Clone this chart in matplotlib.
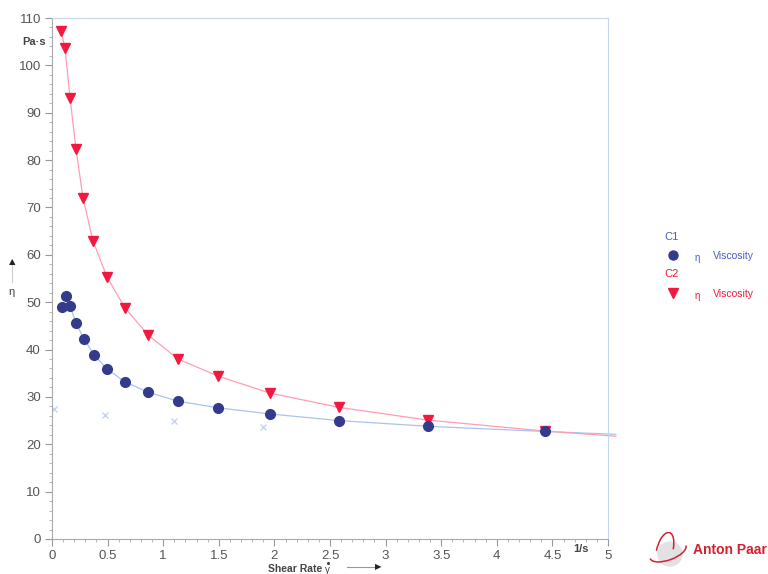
import matplotlib
matplotlib.use('Agg')
import matplotlib.pyplot as plt
from matplotlib.patches import Arc
from matplotlib.ticker import MultipleLocator

plt.rcParams['font.family'] = ['Liberation Sans', 'DejaVu Sans']

# shear rate (1/s) and viscosity (Pa·s)
rate_c1 = [0.09, 0.126, 0.162, 0.216, 0.288, 0.378, 0.495, 0.656, 0.863, 1.133, 1.493, 1.96, 2.58, 3.38, 4.43]
visc_c1 = [49.0, 51.3, 49.2, 45.6, 42.2, 38.9, 35.9, 33.2, 31.0, 29.1, 27.7, 26.4, 25.0, 23.8, 22.7]
rate_c2 = [0.081, 0.117, 0.162, 0.216, 0.279, 0.369, 0.495, 0.656, 0.863, 1.133, 1.493, 1.96, 2.58, 3.38, 4.43]
visc_c2 = [107.3, 103.6, 93.2, 82.3, 72.0, 62.9, 55.3, 48.8, 43.1, 38.0, 34.4, 30.8, 27.8, 25.1, 22.8]
# fit curve tails past the last point
tail_rate = 5.07
tail_c1 = 22.1
tail_c2 = 21.7
# faint scan marks
smudge_x = [0.02, 0.48, 1.1, 1.9]
smudge_y = [27.5, 26.2, 25.0, 23.7]

red = '#f2183f'
navy = '#343b8c'

def px(x, y):
    return x / 768, 1 - y / 574

fig = plt.figure(figsize=(7.68, 5.74), dpi=100)
ax = fig.add_axes([0.0677, 0.061, 0.724, 0.9076])

ax.plot(rate_c1[1:] + [tail_rate], visc_c1[1:] + [tail_c1], color='#a9c3ef', lw=0.9, zorder=1, clip_on=False)
ax.plot(rate_c2 + [tail_rate], visc_c2 + [tail_c2], color='#ff9db2', lw=0.9, zorder=1, clip_on=False)
ax.plot(rate_c1, visc_c1, 'o', color=navy, ms=7, zorder=3)
ax.plot(rate_c2, visc_c2, 'v', color=red, ms=7, zorder=2)
ax.plot(smudge_x, smudge_y, 'x', color='#9bb8e6', ms=4, alpha=0.6, zorder=1)

ax.set_xlim(0, 5)
ax.set_ylim(0, 110)
ax.xaxis.set_minor_locator(MultipleLocator(0.1))
ax.yaxis.set_major_locator(MultipleLocator(10))
ax.yaxis.set_minor_locator(MultipleLocator(2))
ax.set_xticks([0, 0.5, 1, 1.5, 2, 2.5, 3, 3.5, 4, 4.5, 5])
ax.set_xticklabels(['0', '0.5', '1', '1.5', '2', '2.5', '3', '3.5', '4', '4.5', '5'])
ax.tick_params(which='major', length=5, color='#999999', labelsize=9.5, labelcolor='#555555', pad=3)
ax.tick_params(which='minor', length=2.5, color='#aaaaaa')

for s in ['left', 'bottom']:
    ax.spines[s].set_color('#aaaaaa')
    ax.spines[s].set_linewidth(0.8)
for s in ['top', 'right']:
    ax.spines[s].set_color('#c5d6ee')
    ax.spines[s].set_linewidth(0.8)

# axis labels
fig.text(*px(34, 42), 'Pa·s', fontsize=8, fontweight='bold', color='#444444', ha='center', va='center')
fig.text(*px(581, 549), '1/s', fontsize=8, fontweight='bold', color='#444444', ha='center', va='center')
fig.text(*px(12, 292), 'η', fontsize=8, color='#444444', ha='center', va='center')
fig.add_artist(plt.Line2D([12/768, 12/768], [1 - 282/574, 1 - 264/574], color='#cccccc', lw=0.8))
fig.text(*px(12, 262), '▲', fontsize=6, color='#222222', ha='center', va='center', family='DejaVu Sans')
fig.text(*px(268, 572), 'Shear Rate', fontsize=7.5, fontweight='bold', color='#444444', ha='left', va='baseline')
fig.text(*px(325, 573), 'γ', fontsize=7, color='#444444', ha='left', va='baseline')
fig.add_artist(plt.Line2D([328/768], [1 - 563/574], marker='o', ms=1.2, color='#444444'))
fig.add_artist(plt.Line2D([347/768, 376/768], [1 - 567/574, 1 - 567/574], color='#999999', lw=0.8))
fig.text(*px(378, 567), '▶', fontsize=6, color='#222222', ha='center', va='center', family='DejaVu Sans')

# legend
fig.text(*px(672, 237), 'C1', fontsize=8, color='#4a5fc0', ha='center', va='center')
fig.add_artist(plt.Line2D([673/768], [1 - 255/574], marker='o', color=navy, ms=6.5))
fig.text(*px(697, 258), 'η', fontsize=7, color='#4a5fc0', ha='center', va='center')
fig.text(*px(713, 256), 'Viscosity', fontsize=7.5, color='#4a5fc0', ha='left', va='center')
fig.text(*px(672, 274), 'C2', fontsize=8, color=red, ha='center', va='center')
fig.add_artist(plt.Line2D([673/768], [1 - 293/574], marker='v', color=red, ms=7))
fig.text(*px(697, 296), 'η', fontsize=7, color=red, ha='center', va='center')
fig.text(*px(713, 294), 'Viscosity', fontsize=7.5, color=red, ha='left', va='center')

# Anton Paar logo
logo = fig.add_axes([648/768, 2/574, 40/768, 40/574])
logo.axis('off')
logo.set_xlim(0, 1)
logo.set_ylim(0, 1)
logo.add_patch(plt.Circle((0.55, 0.45), 0.3, color='#e2e2e2'))
logo.add_patch(Arc((0.5, 0.5), 0.95, 0.4, angle=20, theta1=180, theta2=360, color='#d42030', lw=1.1))
logo.add_patch(Arc((0.42, 0.55), 0.4, 0.9, angle=-15, theta1=20, theta2=200, color='#d42030', lw=1.1))
fig.text(*px(693, 550), 'Anton Paar', fontsize=10, fontweight='bold', color='#d42030', ha='left', va='center')

fig.savefig('out.png', dpi=100)
